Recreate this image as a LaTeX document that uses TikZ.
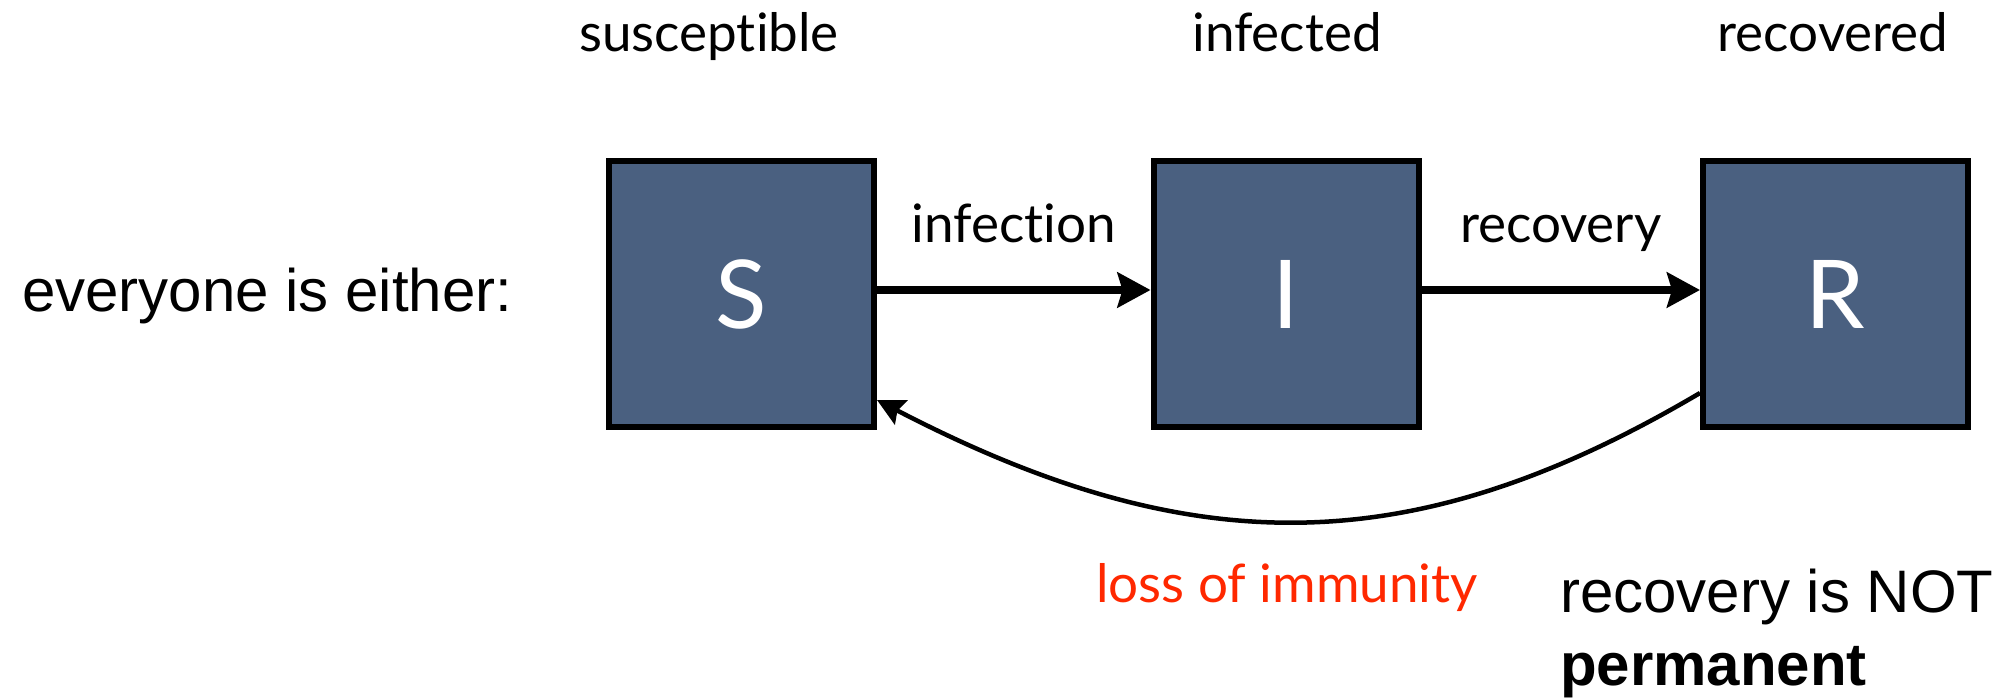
\documentclass[tikz,border=0pt]{standalone}
\usepackage{fontspec}
\setmainfont[Ligatures=NoCommon]{Lato}
\newfontfamily\helv{Liberation Sans}
\usetikzlibrary{arrows.meta}
\definecolor{boxblue}{RGB}{74,96,128}
\definecolor{lossred}{RGB}{255,40,0}
\begin{document}
\begin{tikzpicture}[x=1pt,y=-1pt,
  compbox/.style={draw=black, line width=6pt, fill=boxblue, minimum size=265pt, inner sep=0pt,
    text=white, font=\fontsize{95}{95}\selectfont},
  lbl/.style={anchor=base, inner sep=0pt, font=\fontsize{53}{60}\selectfont},
  helvtext/.style={anchor=base west, inner sep=0pt, font=\helv\fontsize{60}{66}\selectfont},
  mainarrow/.style={line width=7.5pt, -{Stealth[length=33pt,width=35pt,inset=5pt]}},
  backarrow/.style={line width=4.5pt, -{Stealth[length=27pt,width=27pt,inset=4pt]}}]
\useasboundingbox (0,0) rectangle (2008,700);
\node[compbox] (S) at (741.5,294) {S};
\node[compbox] (I) at (1286,294) {I};
\node[compbox] (R) at (1835.5,294) {R};
\node[lbl] (ls) at (709,52) {susceptible};
\node[lbl] (li) at (1287,52) {infected};
\node[lbl] (lr) at (1833,52) {recovered};
\node[helvtext] (ev) at (22,312) {everyone is either:};
\draw[mainarrow] ([yshift=4pt]S.east) -- node[lbl, anchor=base, yshift=47pt] (inf) {infection} ([yshift=4pt]I.west);
\draw[mainarrow] ([yshift=4pt]I.east) -- node[lbl, anchor=base, yshift=47pt] (rec) {recovery} ([yshift=4pt]R.west);
\coordinate (rstart) at ([yshift=-99pt]R.west);
\coordinate (send) at ([yshift=-106pt]S.east);
\draw[backarrow] (rstart) .. controls (1412,563) and (1191,563) .. (send);
\node[lbl, text=lossred, anchor=base west] (loss) at (1096,602) {loss of immunity};
\node[helvtext] (rnot) at (1560,612) {recovery is NOT};
\node[helvtext, font=\helv\bfseries\fontsize{60}{66}\selectfont] (perm) at (1560,685) {permanent};
\end{tikzpicture}
\end{document}
